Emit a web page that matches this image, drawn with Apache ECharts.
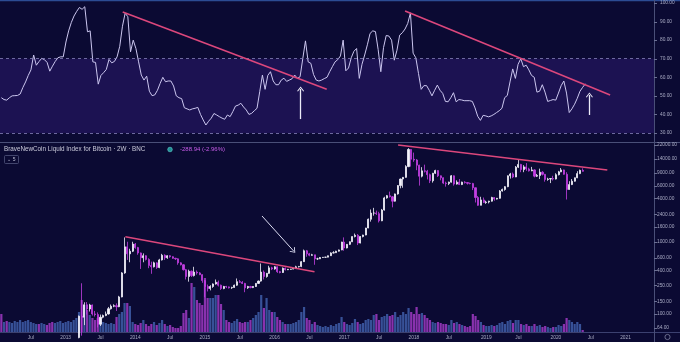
<!DOCTYPE html>
<html>
<head>
<meta charset="utf-8">
<script src="https://cdn.jsdelivr.net/npm/echarts@6/dist/echarts.min.js"></script>
<style>
  html, body { margin: 0; padding: 0; background: #0b0a33; }
  #chart { width: 680px; height: 342px; }
</style>
</head>
<body>
<div id="chart"></div>
<script>
// Bi-weekly bars of the BraveNewCoin Liquid Index for Bitcoin (BNC), log price pane with RSI above.
const FIRST_BAR = [2012, 2, 6];   // first bar opens 2012-02-06
const BAR_DAYS = 14;
const SLOTS = 243;                // bars plus empty space on the right

const firstOpen = 5.6;
const closes = [
  4.9,4.9,4.8,4.9,4.9,5.0,5.1,5.1,5.4,6.3,
  6.8,8.7,10.9,11.2,10.6,11.7,12.3,11.9,11.6,10.9,
  12.3,13.4,13.4,13.5,15.7,18.6,25.5,31,47,93,
  90,134,117,133,100,98,72,90,95,100,
  118,128,130,126,172,370,850,680,740,930,
  830,700,600,640,570,470,450,510,440,560,
  650,600,640,620,590,580,510,480,410,330,
  390,340,380,370,350,290,240,225,240,260,
  275,250,225,240,237,230,233,250,280,275,
  265,230,240,232,240,265,285,380,330,365,
  435,420,450,385,375,430,410,415,418,425,
  450,455,530,750,680,650,660,580,580,605,
  610,612,640,700,705,740,770,990,820,920,
  1000,1180,1230,960,1180,1240,1550,2050,2500,2500,
  2450,1950,2750,4050,4350,4200,3650,4600,6000,7400,
  7800,11000,19000,13900,13600,11500,8100,9600,9500,8500,
  7000,8900,9700,8200,7700,6500,6400,6700,8200,6300,
  6700,6200,6700,6600,6450,6400,5600,4100,3200,3800,
  3500,3550,3650,4100,3900,4000,5050,5300,5800,8200,
  8700,7900,10800,11800,10000,10900,10200,9600,9900,8100,
  8300,9200,8600,7300,7400,7500,7400,8500,9300,9900,
  8600,5300,6200,6900,7700,8800,9762,9473
];
const highs = [
  6.0,5.3,5.0,5.3,5.1,5.1,5.2,5.2,5.5,6.5,
  6.9,8.9,11.0,11.9,16.4,11.9,12.9,12.6,12.1,11.8,
  12.4,13.8,13.8,13.6,16.0,20.0,27.0,32.0,48,95,
  266,145,146,138,135,110,105,98,98,108,
  125,135,136,140,178,380,1150,1000,800,1000,
  960,850,710,690,650,590,530,530,520,580,
  680,670,650,650,630,600,590,520,490,420,
  410,400,450,400,380,355,295,255,250,265,
  300,290,255,245,245,240,238,255,310,295,
  285,270,245,245,243,268,290,500,400,370,
  465,450,460,455,395,440,440,420,420,430,
  465,462,540,780,770,700,680,660,600,615,
  615,618,645,715,740,750,780,1000,1150,930,
  1010,1190,1300,1280,1200,1250,1560,2100,2800,2950,
  2700,2600,2850,4200,4450,4950,4300,4650,6100,7500,
  7900,11500,19800,19200,17200,14000,11700,10800,11700,9900,
  8800,9000,9950,9800,8300,7800,6800,6800,8400,8300,
  7100,7400,6800,6900,6700,6600,6550,5650,4300,4200,
  4100,3700,3700,4200,4150,4050,5200,5450,5900,8300,
  9000,9100,11200,13800,12000,11500,12300,10600,10900,10100,
  8700,10300,9500,8700,7700,7600,8200,8900,9600,10500,
  10000,9200,6900,7400,7750,9500,10000,10400
];
const lows = [
  4.4,4.4,4.7,4.7,4.7,4.8,4.9,5.0,5.0,5.3,
  6.2,6.6,8.5,10.5,7.1,10.2,11.2,11.5,11.2,10.3,
  10.7,12.2,13.1,13.0,13.3,15.6,18.5,24.5,30.5,46,
  50,70,98,108,95,92,65,68,87,93,
  98,115,124,110,124,170,360,560,520,720,
  800,660,420,520,550,430,360,440,420,430,
  550,560,580,600,580,560,480,470,400,300,
  280,325,330,350,345,270,170,205,212,230,
  255,240,215,220,228,225,222,230,245,270,
  260,200,222,226,228,236,260,280,300,318,
  360,405,410,370,365,370,400,405,410,415,
  420,440,445,525,620,630,640,480,560,575,
  600,600,608,635,690,700,730,765,750,810,
  900,990,1150,900,950,1150,1230,1540,1900,2300,
  2350,1850,1930,2700,3950,4100,3000,3600,4500,5500,
  5600,7700,10800,11000,12800,9800,6000,7800,9100,7300,
  6500,6600,8700,7900,7100,6300,5800,6100,6600,6000,
  6200,6100,6100,6400,6200,6250,5200,3500,3150,3200,
  3450,3350,3400,3600,3700,3850,3950,4950,5100,5700,
  7500,7600,7850,10500,9200,9200,9600,9400,9500,7800,
  7900,7400,8300,6800,7000,6500,7050,7300,8300,9200,
  8500,3850,5250,6100,6800,7600,8650,9380
];
const volumes = [
  18,10,11,10,9,11,10,12,10,11,
  12,10,9,8,8,9,8,7,9,10,
  9,10,11,9,10,11,10,12,14,20,
  32,27,22,17,14,12,14,12,10,9,
  8,9,8,15,18,20,29,29,26,10,
  8,7,9,12,8,6,8,10,7,9,
  12,8,6,7,5,4,4,6,19,22,
  14,49,45,32,29,27,54,34,34,34,
  37,37,28,22,12,10,9,11,13,10,
  9,10,10,12,14,17,20,37,24,34,
  22,20,20,15,12,10,8,8,8,9,
  10,12,20,25,14,12,8,10,7,6,
  5,6,5,7,6,8,9,15,10,8,
  7,9,13,10,8,9,12,13,12,17,
  18,12,15,16,18,16,17,20,15,17,
  20,18,24,20,18,25,18,19,17,14,
  12,10,9,10,9,8,8,7,12,9,
  10,8,7,6,5,6,18,16,12,10,
  7,6,6,7,6,7,9,10,8,11,
  12,9,12,12,8,7,8,6,6,8,
  6,7,5,6,5,4,5,5,7,6,
  8,14,12,10,8,10,8,2
];
const rsi = [
  49,48,47.7,49,50,50.1,50.2,51,54.5,57.5,
  61,64,72,66.5,68.5,70.2,69.5,68,63.3,66,
  68.5,70.5,71,71,79,85,89.5,93,95.5,97.6,
  96.6,98,84.5,85,68.3,68,56.3,61,62.5,64.2,
  69.6,67.8,68.5,71,76.7,87.5,94.5,92.6,73.7,80,
  75.5,68.3,61.2,58.5,60.6,52.5,50.1,50.5,53,56.7,
  60,57.6,58,58,55.3,50,49,48.5,43.6,43,
  42.4,43,43.3,43.8,40,37,34.3,36.3,38,40.5,
  39.7,38.8,38,37.4,39.7,38.8,41.5,44.5,45,46,
  44,42.4,40,40.6,42,43.3,52.2,61.2,53.5,61,
  63,58,56,56,58.5,59.5,57.8,58.5,59.2,61.2,
  59.4,60.3,70,79.6,68.3,67.5,61.5,58.5,58,58.5,
  59.3,60,63,65.7,68.3,69.5,71.5,80,63.5,65,
  70.5,74,75.5,59.4,67,72,77.5,83.6,85,84.6,
  75,63,76,82.5,82.2,80,69.2,74.6,82.7,84,
  86,89,94.7,73,70.5,62,53.5,55.5,55.5,53,
  50,53,55.8,53,51.3,47,46.8,49,51.7,46.8,
  48,47.8,47.4,47.4,47.4,47,43.5,39,36.8,39.5,
  39.2,38.7,39.2,40,41,42,43.3,49,50.2,57.5,
  64.5,59.4,67,70,65.7,66.5,64,61,60,52,
  52.5,56,52,47,47.5,48,47.7,51.5,55.5,58,
  51.5,41,43,45.5,48.7,52.5,54.6,56.5
];

const priceTicks = [22000, 14000, 9000, 6000, 4000, 2400, 1600, 1000, 600, 400, 250, 150, 100, 64];
const rsiTicks = [30, 40, 50, 60, 70, 80, 90, 100];
const rsiBand = [30, 70];
const timeTicks = [
  ['2012-07-01', 'Jul'], ['2013-01-01', '2013'], ['2013-07-01', 'Jul'], ['2014-01-01', '2014'],
  ['2014-07-01', 'Jul'], ['2015-01-01', '2015'], ['2015-07-01', 'Jul'], ['2016-01-01', '2016'],
  ['2016-07-01', 'Jul'], ['2017-01-01', '2017'], ['2017-07-01', 'Jul'], ['2018-01-01', '2018'],
  ['2018-07-01', 'Jul'], ['2019-01-01', '2019'], ['2019-07-01', 'Jul'], ['2020-01-01', '2020'],
  ['2020-07-01', 'Jul'], ['2021-01-01', '2021']
];

// Drawn annotations, as [bar index, value] end points
const rsiTrendLines = [[[45.1, 95.2], [120.9, 53.5]], [[150.0, 95.7], [226.2, 50.5]]];
const rsiArrows = [[[111.2, 37.5], [111.2, 53.7]], [[218.5, 39.7], [218.5, 50.5]]];
const priceTrendLines = [[[46.3, 1175], [116.9, 385]], [[148.1, 21900], [226.2, 9860]]];
const priceArrows = [[[97.3, 2275], [109.1, 745]]];

const legendTitle = 'BraveNewCoin Liquid Index for Bitcoin · 2W · BNC';
const legendChange = '-288.94 (-2.96%)';

// ---- derived series ----
const opens = closes.map((c, i) => (i === 0 ? firstOpen : closes[i - 1]));
const candleData = closes.map((c, i) => [i, opens[i], c, lows[i], highs[i]]);
const UP = '#f4f3fb', DOWN = '#c33fe2';
const VOL_UP = 'rgba(64, 94, 170, 0.85)', VOL_DOWN = 'rgba(160, 58, 196, 0.85)';
const volumeData = volumes.map((v, i) => ({
  value: [i, v],
  itemStyle: { color: closes[i] >= opens[i] ? VOL_UP : VOL_DOWN }
}));
const rsiData = rsi.map((v, i) => [i, v]);

const DAY = 86400000;
const t0 = Date.UTC(FIRST_BAR[0], FIRST_BAR[1] - 1, FIRST_BAR[2]);
function firstBarOnOrAfter(s) {
  const [y, m, d] = s.split('-').map(Number);
  return Math.ceil((Date.UTC(y, m - 1, d) - t0) / (BAR_DAYS * DAY));
}
const timeLabelAt = {};
timeTicks.forEach(([d, t]) => { timeLabelAt[firstBarOnOrAfter(d)] = t; });
const timeTickIdx = Object.keys(timeLabelAt).map(Number);

const TREND = '#dc477c';
const ARROW = '#ecebf8';
const chevron = 'path://M0,7 L5,0 L10,7 L8.8,7.6 L5,2.2 L1.2,7.6 Z';

function segments(list, style, headSymbol, headSize) {
  return list.map(([a, b]) => [
    { coord: a, symbol: 'none', lineStyle: style },
    { coord: b, symbol: headSymbol || 'none', symbolSize: headSize || 0 }
  ]);
}

const FONT = '"Liberation Sans", Arial, sans-serif';
const AXIS_TXT = '#a9abc4';
const GRID_RIGHT = 26;
const AXIS_X = 680 - GRID_RIGHT;

const chart = echarts.init(document.getElementById('chart'), null, { renderer: 'canvas' });

const frame = [
  { type: 'line', shape: { x1: 0, y1: 0.5, x2: 680, y2: 0.5 }, style: { stroke: '#2c4c94', lineWidth: 1.5 }, silent: true },
  { type: 'line', shape: { x1: 0, y1: 142.5, x2: 680, y2: 142.5 }, style: { stroke: '#4a4f78', lineWidth: 1 }, silent: true },
  { type: 'line', shape: { x1: 0, y1: 332.5, x2: 680, y2: 332.5 }, style: { stroke: '#3c4170', lineWidth: 1 }, silent: true },
  { type: 'line', shape: { x1: AXIS_X + 0.5, y1: 0, x2: AXIS_X + 0.5, y2: 342 }, style: { stroke: '#4a4f78', lineWidth: 1 }, silent: true },
  {
    type: 'text', x: 4, y: 149.5, silent: true,
    style: { text: legendTitle, fill: '#cacada', font: '6.3px ' + FONT, verticalAlign: 'middle' }
  },
  { type: 'circle', shape: { cx: 170, cy: 149.5, r: 2.3 }, style: { fill: '#1f8f95', stroke: '#63d4d0', lineWidth: 0.6 }, silent: true },
  {
    type: 'text', x: 180, y: 149.5, silent: true,
    style: { text: legendChange, fill: '#c75ce8', font: '6px ' + FONT, verticalAlign: 'middle' }
  },
  { type: 'rect', shape: { x: 4.5, y: 155.5, width: 14, height: 8, r: 1 }, style: { fill: 'none', stroke: '#50547c', lineWidth: 0.8 }, silent: true },
  {
    type: 'text', x: 11.5, y: 159.7, silent: true,
    style: { text: '⌄ 5', fill: '#b9bad0', font: '5px ' + FONT, align: 'center', verticalAlign: 'middle' }
  },
  { type: 'circle', shape: { cx: 667.5, cy: 337, r: 2.6 }, style: { fill: 'none', stroke: '#7d809f', lineWidth: 0.8 }, silent: true }
];

chart.setOption({
  animation: false,
  backgroundColor: '#0b0a33',
  textStyle: { fontFamily: FONT },
  grid: [
    { left: 0, right: GRID_RIGHT, top: 1, height: 141 },
    { left: 0, right: GRID_RIGHT, top: 143, bottom: 10 }
  ],
  xAxis: [
    { type: 'value', gridIndex: 0, min: -0.5, max: SLOTS - 0.5, show: false },
    {
      type: 'value', gridIndex: 1, min: -0.5, max: SLOTS - 0.5,
      axisLine: { show: false }, axisTick: { show: false }, splitLine: { show: false },
      axisLabel: {
        customValues: timeTickIdx,
        formatter: v => timeLabelAt[Math.round(v)] || '',
        color: AXIS_TXT, fontSize: 4.8, margin: 3, hideOverlap: false
      }
    }
  ],
  yAxis: [
    {
      type: 'value', gridIndex: 0, position: 'right', min: 25.15, max: 101.08,
      axisLine: { show: false }, splitLine: { show: false }, axisTick: { show: false },
      axisLabel: {
        customValues: rsiTicks, formatter: v => v.toFixed(2),
        color: AXIS_TXT, fontSize: 4.8, margin: 6, hideOverlap: false
      }
    },
    {
      type: 'log', gridIndex: 1, position: 'right', min: 56.2, max: 23350,
      axisLine: { show: false }, splitLine: { show: false }, axisTick: { show: false },
      axisLabel: {
        customValues: priceTicks, formatter: v => Number(v).toFixed(2),
        color: AXIS_TXT, fontSize: 4.8, margin: 6, hideOverlap: false
      }
    },
    { type: 'value', gridIndex: 1, min: 0, max: 189, show: false }
  ],
  series: [
    {
      name: 'RSI', type: 'line', xAxisIndex: 0, yAxisIndex: 0,
      data: rsiData, symbol: 'none', z: 3,
      lineStyle: { color: '#cbc6ef', width: 1 },
      markArea: {
        silent: true, z: 1,
        itemStyle: { color: '#1c1252' },
        data: [[{ yAxis: rsiBand[0] }, { yAxis: rsiBand[1] }]]
      },
      markLine: {
        silent: true, symbol: ['none', 'none'], label: { show: false },
        data: [
          { yAxis: rsiBand[1], lineStyle: { color: '#8681ba', type: [3, 3], width: 0.8 } },
          { yAxis: rsiBand[0], lineStyle: { color: '#8681ba', type: [3, 3], width: 0.8 } },
          ...segments(rsiTrendLines, { color: TREND, width: 1.6, type: 'solid' }),
          ...segments(rsiArrows, { color: ARROW, width: 1.3, type: 'solid' }, chevron, [7, 5])
        ]
      }
    },
    {
      name: 'Volume', type: 'bar', xAxisIndex: 1, yAxisIndex: 2,
      data: volumeData, barWidth: 2.2, silent: true, z: 1
    },
    {
      name: 'BNC', type: 'candlestick', xAxisIndex: 1, yAxisIndex: 1,
      data: candleData, encode: { x: 0, y: [1, 2, 3, 4] },
      barWidth: 1.6, clip: true, z: 3,
      itemStyle: { color: UP, color0: DOWN, borderColor: UP, borderColor0: DOWN, borderWidth: 0.8 },
      markLine: {
        silent: true, symbol: ['none', 'none'], label: { show: false },
        data: [
          ...segments(priceTrendLines, { color: TREND, width: 1.6, type: 'solid' }),
          ...segments(priceArrows, { color: '#dcdcf2', width: 1, type: 'solid' }, chevron, [7, 5])
        ]
      }
    }
  ],
  graphic: frame
});

// Small tick marks beside the right-hand scale labels, placed through the axes' own scales
const tickMarks = [];
rsiTicks.forEach(v => {
  const y = Math.round(chart.convertToPixel({ yAxisIndex: 0 }, v)) + 0.5;
  tickMarks.push({ type: 'line', shape: { x1: AXIS_X, y1: y, x2: AXIS_X + 3, y2: y }, style: { stroke: '#6b6f93', lineWidth: 1 }, silent: true });
});
priceTicks.forEach(v => {
  const y = Math.round(chart.convertToPixel({ yAxisIndex: 1 }, v)) + 0.5;
  tickMarks.push({ type: 'line', shape: { x1: AXIS_X, y1: y, x2: AXIS_X + 3, y2: y }, style: { stroke: '#6b6f93', lineWidth: 1 }, silent: true });
});
chart.setOption({ graphic: frame.concat(tickMarks) });
</script>
</body>
</html>
